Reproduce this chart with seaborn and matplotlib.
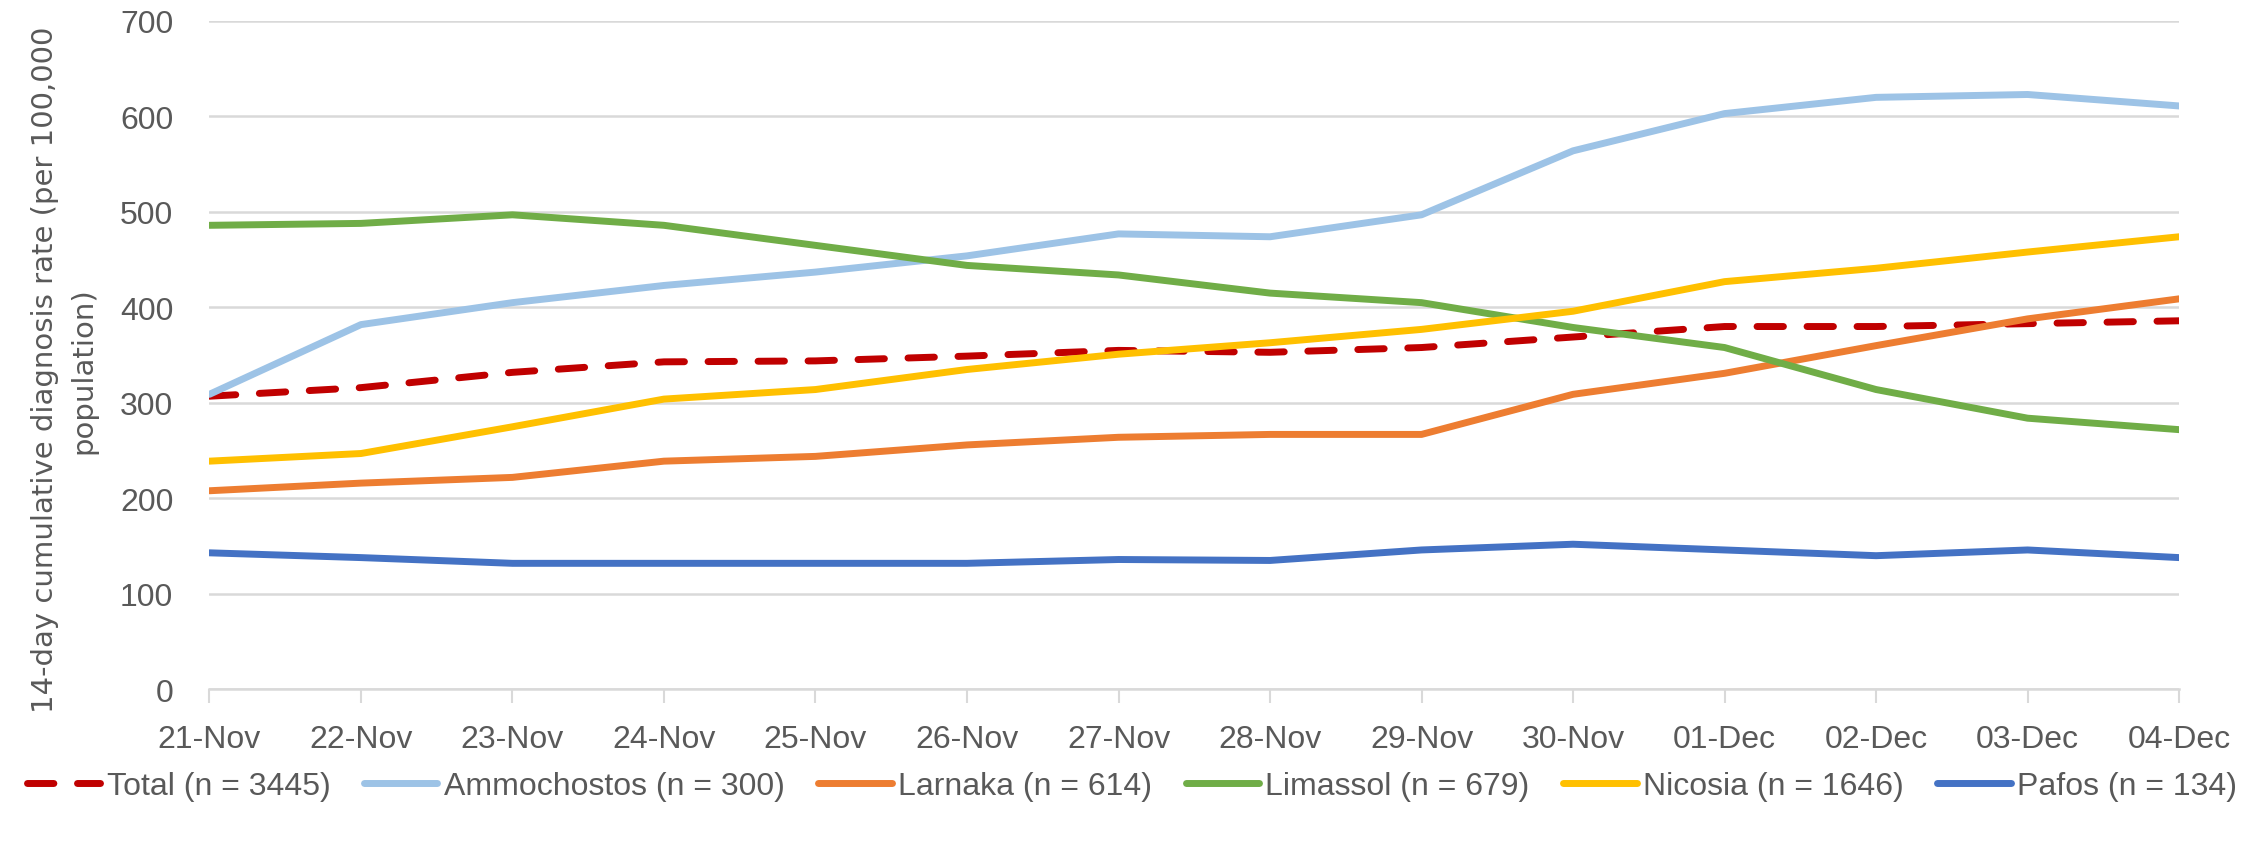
import seaborn as sns
import matplotlib.pyplot as plt
import pandas as pd

# Data
dates = ["21-Nov", "22-Nov", "23-Nov", "24-Nov", "25-Nov", "26-Nov", "27-Nov",
         "28-Nov", "29-Nov", "30-Nov", "01-Dec", "02-Dec", "03-Dec", "04-Dec"]
total = [307, 316, 332, 343, 344, 349, 355, 353, 358, 369, 380, 380, 383, 386]
ammochostos = [309, 382, 405, 423, 437, 454, 477, 474, 497, 564, 603, 620, 623, 611]
larnaka = [208, 216, 222, 239, 244, 256, 264, 267, 267, 309, 331, 360, 388, 409]
limassol = [486, 488, 497, 486, 465, 444, 434, 415, 405, 379, 358, 314, 284, 272]
nicosia = [239, 247, 275, 304, 314, 335, 351, 363, 377, 396, 427, 441, 458, 474]
pafos = [143, 138, 132, 132, 132, 132, 136, 135, 146, 152, 146, 140, 146, 138]

series = {
    "Total (n = 3445)": total,
    "Ammochostos (n = 300)": ammochostos,
    "Larnaka (n = 614)": larnaka,
    "Limassol (n = 679)": limassol,
    "Nicosia (n = 1646)": nicosia,
    "Pafos (n = 134)": pafos,
}
colors = ["#C00000", "#9DC3E6", "#ED7D31", "#70AD47", "#FFC000", "#4472C4"]

rows = []
for name, vals in series.items():
    for d, v in zip(dates, vals):
        rows.append({"date": d, "rate": v, "area": name})
df = pd.DataFrame(rows)

sns.set_theme(style="white")
plt.rcParams["font.family"] = ["Liberation Sans", "DejaVu Sans"]

fig = plt.figure(figsize=(22.64, 8.45), dpi=100)
ax = fig.add_axes([0.0925, 0.183, 0.87, 0.791])

names = list(series.keys())
dashes = {n: "" for n in names}
dashes[names[0]] = (3.8, 3.4)
sns.lineplot(data=df, x="date", y="rate", hue="area", style="area",
             palette=dict(zip(names, colors)), dashes=dashes, linewidth=5,
             sort=False, ax=ax, legend=True)
for ln in ax.lines:
    ln.set_dash_capstyle("round")
    ln.set_solid_capstyle("round")

ax.set_xlim(0, len(dates) - 1)
ax.set_ylim(0, 700)
ax.set_yticks(range(0, 701, 100))
ax.grid(axis="y", color="#d9d9d9", linewidth=1.8)
ax.set_axisbelow(True)
for s in ["top", "right", "left"]:
    ax.spines[s].set_visible(False)
ax.spines["bottom"].set_color("#d9d9d9")
ax.spines["bottom"].set_linewidth(1.8)
ax.tick_params(axis="x", length=10, width=1.5, color="#d9d9d9", pad=15,
               labelsize=23, labelcolor="#595959", bottom=True)
ax.tick_params(axis="y", length=0, pad=26, labelsize=23, labelcolor="#595959")
ax.set_xlabel("")
ax.set_ylabel("14-day cumulative diagnosis rate (per 100,000\npopulation)",
              family="DejaVu Sans", fontsize=21, color="#595959",
              linespacing=1.45)
ax.yaxis.set_label_coords(-0.057, 0.479)

handles, labels = ax.get_legend_handles_labels()
ax.legend_.remove()
for h in handles:
    h.set_linewidth(5)
    h.set_dash_capstyle("round")
    h.set_solid_capstyle("round")
fig.legend(handles, labels, loc="center", bbox_to_anchor=(0.5, 0.069),
           ncol=6, frameon=False, fontsize=23, handlelength=2.3,
           columnspacing=1.05, handletextpad=0.2, labelcolor="#595959")

fig.savefig("out.png", dpi=100)
